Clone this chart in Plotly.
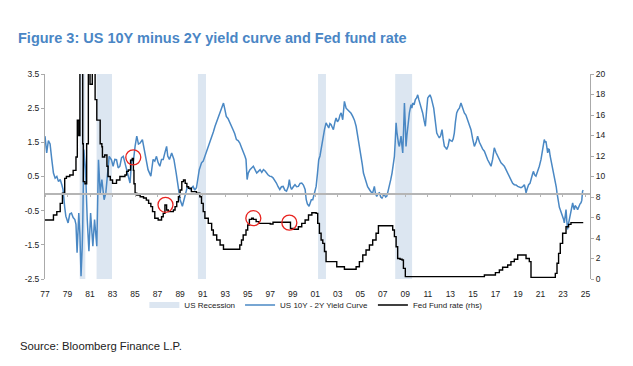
import plotly.graph_objects as go

# ---------------- data ----------------
# US 10Y - 2Y yield curve (lhs)
yc_x = [1977.0,1977.15,1977.3,1977.45,1977.6,1977.75,1977.9,1978.05,1978.2,1978.35,1978.5,1978.6,1978.75,1978.85,1979.05,1979.2,1979.35,1979.5,1979.65,1979.75,1979.85,
        1980.0,1980.1,1980.2,1980.3,1980.35,1980.45,1980.6,1980.75,1980.9,1981.05,1981.15,1981.25,1981.4,1981.5,1981.6,1981.75,1981.9,1982.05,1982.15,1982.25,1982.4,1982.55,1982.7,1982.9,
        1983.05,1983.2,1983.35,1983.5,1983.65,1983.8,1983.95,1984.1,1984.25,1984.4,1984.55,1984.7,1984.85,1985.0,1985.15,1985.3,1985.45,1985.65,1985.8,1985.95,1986.15,1986.4,1986.6,1986.75,1986.9,
        1987.05,1987.2,1987.35,1987.5,1987.65,1987.8,1987.9,1988.05,1988.25,1988.45,1988.65,1988.85,1989.0,1989.2,1989.45,1989.65,1989.9,1990.15,1990.3,1990.45,1990.7,1990.9,
        1991.05,1991.2,1991.35,1991.5,1991.65,1991.8,1991.95,1992.1,1992.25,1992.4,1992.55,1992.7,1992.85,1992.95,1993.1,1993.25,1993.4,1993.55,1993.7,1993.85,1994.0,1994.15,1994.3,1994.45,1994.6,1994.75,1994.85,1994.95,
        1995.05,1995.2,1995.35,1995.5,1995.65,1995.8,1995.95,1996.1,1996.25,1996.4,1996.55,1996.65,1996.8,1996.95,1997.1,1997.25,1997.4,1997.55,1997.7,1997.85,1998.0,1998.15,1998.3,1998.45,1998.6,1998.7,1998.8,1998.9,
        1999.05,1999.2,1999.35,1999.5,1999.65,1999.8,1999.95,2000.1,2000.2,2000.3,2000.45,2000.55,2000.65,2000.78,2000.9,2001.08,2001.2,2001.31,2001.42,2001.52,2001.67,2001.82,2001.96,
        2002.1,2002.2,2002.3,2002.4,2002.5,2002.61,2002.75,2002.85,2002.97,2003.09,2003.2,2003.3,2003.44,2003.52,2003.59,2003.74,2003.9,2004.03,2004.18,2004.33,2004.48,2004.63,2004.75,2004.86,
        2005.07,2005.18,2005.28,2005.4,2005.51,2005.65,2005.81,2005.95,2006.1,2006.25,2006.35,2006.46,2006.58,2006.7,2006.82,2006.93,2007.05,2007.14,2007.25,2007.35,2007.45,2007.58,2007.7,2007.82,2007.95,
        2008.03,2008.1,2008.18,2008.25,2008.32,2008.4,2008.47,2008.55,2008.62,2008.7,2008.77,2008.85,2008.92,2009.0,2009.06,2009.14,2009.21,2009.28,2009.36,2009.44,2009.51,2009.58,2009.66,2009.78,2009.89,
        2010.0,2010.1,2010.2,2010.3,2010.42,2010.54,2010.66,2010.78,2010.88,2010.99,2011.1,2011.19,2011.3,2011.43,2011.52,2011.61,2011.7,2011.79,2011.9,2012.02,2012.14,2012.26,2012.36,2012.47,2012.57,2012.67,2012.8,2012.91,
        2013.03,2013.15,2013.25,2013.35,2013.45,2013.56,2013.68,2013.8,2013.94,2014.08,2014.24,2014.38,2014.54,2014.68,2014.83,2014.98,2015.13,2015.28,2015.42,2015.58,2015.72,2015.87,2016.02,2016.16,2016.31,2016.46,2016.61,2016.75,2016.82,2016.9,
        2017.05,2017.2,2017.35,2017.5,2017.65,2017.79,2017.94,2018.09,2018.24,2018.38,2018.53,2018.68,2018.83,2018.98,2019.12,2019.27,2019.42,2019.57,2019.65,2019.72,2019.83,2019.95,2020.07,2020.19,2020.28,2020.37,2020.48,2020.6,2020.75,2020.9,
        2021.05,2021.19,2021.27,2021.34,2021.42,2021.49,2021.57,2021.64,2021.71,2021.78,2021.86,2021.93,2022.03,2022.14,2022.23,2022.32,2022.4,2022.47,2022.54,2022.61,2022.68,2022.76,2022.86,2022.97,
        2023.05,2023.12,2023.2,2023.27,2023.34,2023.41,2023.48,2023.56,2023.63,2023.71,2023.78,2023.86,2023.94,2024.01,2024.08,2024.15,2024.23,2024.3,2024.38,2024.45,2024.52,2024.6,2024.67,2024.74,2024.8]
yc_v = [1.68,1.19,1.55,1.45,1.0,0.6,0.45,0.5,0.35,0.41,0.25,0.12,-0.4,-0.66,-0.86,-0.6,-0.57,-0.7,-0.76,-0.9,-1.73,
        -0.57,-1.2,-2.42,-1.6,-0.95,1.29,0.7,-0.76,-1.69,-0.57,-1.2,-1.54,-0.76,-1.3,-1.54,0.99,0.02,0.41,0.1,-0.18,0.02,0.7,1.09,0.99,
        0.8,1.0,0.99,0.75,0.8,1.05,1.09,0.9,0.7,0.5,0.31,1.0,0.95,1.38,1.68,1.45,1.48,1.58,1.3,1.09,0.7,0.51,1.0,0.95,1.09,
        0.9,0.8,1.0,1.0,1.2,1.38,1.1,1.0,1.19,1.0,0.6,0.21,-0.18,-0.37,-0.08,0.21,0.12,0.21,0.1,0.17,0.7,0.9,
        0.95,1.09,1.2,1.38,1.5,1.68,1.8,1.97,2.1,2.26,2.35,2.46,2.65,2.5,2.26,2.2,2.07,1.98,1.87,1.75,1.58,1.55,1.48,1.35,1.19,1.1,1.0,0.41,
        0.6,0.7,0.75,0.8,0.7,0.6,0.65,0.7,0.62,0.7,0.66,0.6,0.55,0.51,0.5,0.46,0.4,0.31,0.2,0.12,0.2,0.21,0.1,0.07,0.2,0.41,0.2,0.12,
        0.2,0.26,0.2,0.21,0.3,0.31,0.25,0.12,-0.18,-0.3,-0.37,-0.25,-0.18,-0.18,0.02,0.21,0.6,0.99,1.1,1.29,1.68,1.87,2.07,
        1.95,1.92,2.05,2.02,1.95,1.87,2.1,2.21,2.1,2.16,2.3,2.36,2.16,2.45,2.7,2.5,2.45,2.41,2.35,2.26,2.15,1.97,1.75,1.48,
        1.09,0.85,0.6,0.45,0.31,0.2,0.12,0.05,0.02,0.21,0.0,-0.08,0.0,0.02,-0.1,-0.13,-0.05,-0.03,-0.1,-0.08,0.05,0.21,0.4,0.6,0.85,
        1.09,1.5,2.07,1.8,1.58,1.45,1.38,1.6,1.68,1.4,1.19,1.9,2.65,2.0,1.38,1.7,1.97,2.2,2.36,2.5,2.6,2.5,2.65,2.6,2.75,
        2.8,2.89,2.75,2.65,2.5,2.36,2.15,1.97,2.4,2.8,2.85,2.89,2.8,2.65,2.5,2.26,2.0,1.77,1.7,1.63,1.7,1.87,1.6,1.38,1.35,1.29,1.4,1.58,
        1.55,1.53,1.6,1.77,2.1,2.36,2.45,2.5,2.65,2.5,2.36,2.3,2.16,2.0,1.87,1.6,1.38,1.5,1.68,1.5,1.38,1.3,1.24,1.1,0.99,0.9,0.8,1.0,1.2,1.34,
        1.2,1.09,1.0,0.9,0.85,0.8,0.7,0.6,0.5,0.41,0.3,0.26,0.25,0.21,0.2,0.17,0.2,0.26,0.15,0.02,0.15,0.26,0.3,0.41,0.55,0.65,0.55,0.51,0.65,0.8,
        1.0,1.29,1.45,1.58,1.5,1.53,1.35,1.19,1.3,1.29,1.1,0.99,0.85,0.7,0.55,0.41,0.2,0.02,-0.15,-0.27,-0.4,-0.47,-0.55,-0.66,
        -0.75,-0.86,-0.6,-0.47,-0.8,-1.05,-0.9,-0.76,-0.65,-0.57,-0.4,-0.27,-0.4,-0.47,-0.35,-0.37,-0.42,-0.47,-0.4,-0.37,-0.3,-0.27,-0.2,0.07,0.1]

# Fed fund rate (rhs)
ff_x = [1977.0,1977.45,1977.75,1978.05,1978.35,1978.55,1978.75,1978.9,1979.2,1979.5,1979.75,1979.87,1980.0,1980.1,1980.25,1980.35,1980.4,1980.55,1980.7,1980.85,
        1981.0,1981.2,1981.45,1981.6,1981.75,1981.9,1982.05,1982.1,1982.3,1982.5,1982.6,1982.8,1983.0,1983.3,1983.35,1983.65,1984.1,1984.25,1984.4,1984.6,1984.75,1984.85,1984.9,
        1985.0,1985.15,1985.45,1985.75,1986.0,1986.2,1986.4,1986.55,1986.75,1987.05,1987.35,1987.5,1987.65,1987.8,1987.95,1988.25,1988.4,1988.55,1988.7,1988.85,1989.0,1989.15,1989.3,1989.45,1989.6,1989.75,
        1990.0,1990.45,1990.75,1990.9,1991.05,1991.2,1991.5,1991.8,1991.95,1992.25,1992.55,1992.85,1994.15,1994.3,1994.45,1994.6,1994.85,1995.0,1995.15,1995.35,1995.5,1995.75,1996.0,1997.0,1997.25,1998.6,1998.8,1999.05,1999.5,1999.8,
        2000.1,2000.4,2000.7,2000.95,2001.08,2001.22,2001.37,2001.52,2001.67,2001.82,2001.96,2002.85,2002.91,2003.44,2003.59,2004.48,2004.63,2004.92,2005.22,2005.51,2005.81,2006.1,2006.4,2006.61,
        2007.73,2007.88,2008.03,2008.18,2008.32,2008.53,2008.71,2008.83,2009.0,2016.0,2016.02,2016.9,2017.0,2017.35,2017.64,2018.09,2018.38,2018.68,2018.98,2019.42,2019.72,2020.01,2020.16,
        2022.23,2022.32,2022.47,2022.61,2022.76,2022.97,2023.27,2023.5,2023.71,2024.8]
ff_v = [5.76,5.76,6.24,6.57,7.38,8.36,9.82,10.0,10.15,10.6,11.9,15.5,14.0,22.0,22.0,13.2,9.5,9.3,13.2,22.0,
        19.0,22.0,17.5,15.5,15.5,13.2,12.9,11.9,12.1,11.0,10.0,9.66,9.33,9.33,9.66,10.0,10.15,10.5,10.63,11.6,11.77,10.6,9.3,
        8.36,8.2,8.03,7.9,7.7,7.38,7.06,6.57,5.92,5.76,6.08,6.4,7.22,6.73,6.57,6.57,6.73,7.06,7.54,8.03,8.68,9.5,9.66,9.33,9.0,8.85,
        8.52,8.36,8.03,7.38,6.57,5.92,5.43,4.78,4.29,3.8,3.32,2.9,2.9,3.32,3.8,4.29,4.78,5.27,5.82,5.92,5.82,5.6,5.43,5.37,5.53,5.53,4.94,4.85,5.1,5.43,
        5.76,6.24,6.47,6.47,6.4,5.43,4.46,3.8,3.48,2.68,1.7,1.7,1.2,1.2,0.95,0.95,1.2,1.7,2.34,2.83,3.32,3.8,4.46,5.2,
        5.2,4.78,4.13,3.15,2.0,1.92,1.85,1.04,0.23,0.23,0.39,0.39,0.62,0.88,1.14,1.37,1.7,1.92,2.34,2.34,2.0,1.7,0.16,
        0.16,0.55,1.53,2.5,3.48,4.46,5.1,5.33,5.5,5.5]

# US recessions (start, end)
rec_start = [1980.08, 1981.58, 1990.58, 2001.25, 2008.1]
rec_end = [1980.58, 1982.95, 1991.3, 2001.95, 2009.6]

# highlighted points (lhs units)
circ_x = [1984.84, 1987.7, 1995.5, 1998.7]
circ_y = [1.06, -0.33, -0.72, -0.85]

x_ticks = list(range(1977, 2026, 2))
x_ticktext = [f"{y % 100:02d}" for y in x_ticks]
lhs_ticks = [-2.5, -1.5, -0.5, 0.5, 1.5, 2.5, 3.5]
rhs_ticks = list(range(0, 21, 2))

LHS_MIN, LHS_MAX = -2.5, 3.5

# ---------------- figure ----------------
rx, ry = [], []
for s, e in zip(rec_start, rec_end):
    rx += [s, s, e, e, s, None]
    ry += [LHS_MIN, LHS_MAX, LHS_MAX, LHS_MIN, LHS_MIN, None]

FONT = "Liberation Sans, Arial, sans-serif"
BLUE = "#4a88c4"

fig = go.Figure()
fig.add_trace(go.Scatter(x=rx, y=ry, mode="none", fill="toself", fillcolor="#dce6f1",
                         name="US Recession", hoverinfo="skip"))
fig.add_trace(go.Scatter(x=yc_x, y=yc_v, mode="lines", line=dict(color=BLUE, width=1.5),
                         name="US 10Y - 2Y Yield Curve"))
fig.add_trace(go.Scatter(x=ff_x, y=ff_v, mode="lines", line=dict(color="black", width=1.4, shape="hv"),
                         name="Fed Fund rate (rhs)", yaxis="y2"))
fig.add_trace(go.Scatter(x=circ_x, y=circ_y, mode="markers", xaxis="x2",
                         marker=dict(symbol="circle-open", size=15, color="#e8231f", line=dict(width=1.3)),
                         showlegend=False))

xrange = [1977, 2025.4]
fig.update_layout(
    width=633, height=366,
    margin=dict(l=45, r=43, t=74, b=87),
    paper_bgcolor="white", plot_bgcolor="white",
    font=dict(family=FONT, size=8.5, color="#222"),
    title=dict(text="<b>Figure 3: US 10Y minus 2Y yield curve and Fed fund rate</b>",
               x=18/633, xref="container", xanchor="left",
               y=1-38/366, yref="container", yanchor="middle",
               font=dict(family=FONT, size=14.5, color="#4a86c5")),
    xaxis=dict(range=xrange, tickvals=x_ticks, ticktext=x_ticktext, showgrid=False, zeroline=False,
               showline=False, ticks="", ticklabelstandoff=8, tickfont=dict(size=8.5, color="#222")),
    xaxis2=dict(range=xrange, overlaying="x", anchor="free",
                position=(0 - LHS_MIN) / (LHS_MAX - LHS_MIN), side="bottom",
                tickvals=x_ticks, showticklabels=False, showgrid=False, zeroline=False,
                showline=True, linecolor="#b5b5b5", linewidth=1.5,
                ticks="outside", ticklen=3, tickcolor="#b5b5b5"),
    yaxis=dict(range=[LHS_MIN, LHS_MAX], tickvals=lhs_ticks, ticktext=[f"{v:.1f}" for v in lhs_ticks],
               showgrid=False, zeroline=False, showline=True, linecolor="#aaaaaa", linewidth=1,
               ticks="outside", ticklen=3, tickcolor="#aaaaaa", tickfont=dict(size=8.5, color="#222")),
    yaxis2=dict(range=[0, 20], tickvals=rhs_ticks, overlaying="y", side="right",
                showgrid=False, zeroline=False, showline=True, linecolor="#aaaaaa", linewidth=1,
                ticks="outside", ticklen=3, tickcolor="#aaaaaa", tickfont=dict(size=8.5, color="#222")),
    legend=dict(orientation="h", x=0.497, xanchor="center", y=-0.127, yanchor="middle",
                font=dict(size=8, color="#222"), bgcolor="rgba(0,0,0,0)", itemwidth=30,
                tracegroupgap=0),
    showlegend=True,
)
fig.add_annotation(text="Source: Bloomberg Finance L.P.", xref="paper", yref="paper",
                   x=(18-45)/545, y=(279-346)/205, xanchor="left", yanchor="middle",
                   showarrow=False, font=dict(family=FONT, size=11.3, color="#222"))

fig.write_html("out.html", config={"displayModeBar": False},
               post_script="document.body.style.margin='0px';document.body.style.overflow='hidden';")
